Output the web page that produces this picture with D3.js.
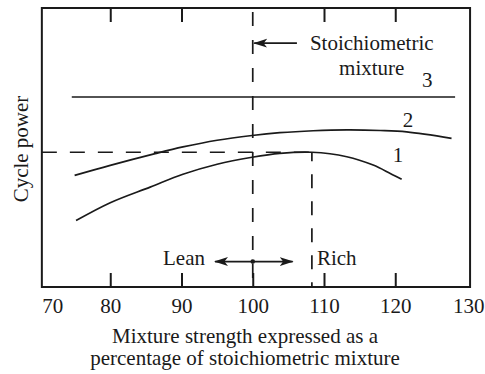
<!DOCTYPE html>
<html>
<head>
<meta charset="utf-8">
<script src="https://cdn.jsdelivr.net/npm/d3@7"></script>
<style>
  body { margin: 0; background: #fff; }
  svg { display: block; font-family: "Liberation Serif", "Times New Roman", serif; }
  text { fill: #1a1a1a; font-size: 21px; }
</style>
</head>
<body>
<svg id="chart" width="485" height="374"></svg>
<script>
// x: mixture strength (% of stoichiometric), y: relative cycle power
var xTicks = [70, 80, 90, 100, 110, 120, 130];
var topTicks = [80, 90, 110, 120];

// curve 1
var curve1X = [75.2, 80, 85.6, 90.2, 95, 99.9, 103.8, 108.3, 113.2, 116.9, 119.3, 120.9];
var curve1Y = [23.8, 30.2, 35.8, 40.4, 44.0, 46.5, 47.9, 48.3, 46.7, 43.7, 40.7, 38.6];
// curve 2
var curve2X = [75, 80, 86.3, 90.2, 95, 99.9, 103.8, 108.5, 113.2, 117.9, 121.6, 127.9];
var curve2Y = [40.0, 43.6, 47.8, 50.2, 52.6, 54.3, 55.3, 56.0, 56.3, 56.1, 55.6, 53.3];
// curve 3 (flat)
var curve3X = [74.6, 128.4];
var curve3Y = [68.1, 68.1];

var curveNames = ["1", "2", "3"];
var stoich = 100;
var peakX = 108.3, peakY = 48.3;

(function () {
  var svg = d3.select("#chart");
  var ink = "#1a1a1a";

  var x = d3.scaleLinear().domain([70, 130]).range([39, 466.5]);
  var y = d3.scaleLinear().domain([0, 100]).range([287, 8]);

  var fLeft = x(70.4), fRight = x(130.5), fTop = y(100), fBottom = y(0);

  // arrow heads
  var defs = svg.append("defs");
  defs.append("marker")
    .attr("id", "head")
    .attr("viewBox", "0 -5 14 10")
    .attr("refX", 13).attr("refY", 0)
    .attr("markerUnits", "userSpaceOnUse")
    .attr("markerWidth", 14).attr("markerHeight", 10)
    .attr("orient", "auto-start-reverse")
    .append("path")
    .attr("d", "M0,-4.5L14,0L0,4.5L3.5,0Z")
    .attr("fill", ink);

  // frame
  svg.append("rect")
    .attr("x", fLeft).attr("y", fTop)
    .attr("width", fRight - fLeft).attr("height", fBottom - fTop)
    .attr("fill", "none").attr("stroke", ink).attr("stroke-width", 2);

  // bottom ticks + labels
  var xAxis = svg.append("g")
    .attr("transform", "translate(0," + fBottom + ")")
    .call(d3.axisBottom(x).tickValues(xTicks).tickSize(-14).tickPadding(11).tickFormat(d3.format("d")));
  xAxis.select(".domain").remove();
  xAxis.selectAll(".tick line")
    .attr("stroke", ink).attr("stroke-width", 2)
    .attr("display", function (d) { return (d === 70 || d === 130) ? "none" : null; });
  xAxis.selectAll(".tick text")
    .attr("fill", ink)
    .style("font-size", "21px")
    .style("font-family", "Liberation Serif, serif")
    .attr("text-anchor", function (d) {
      if (d === 70) return "start";
      if (d === 130) return "end";
      return "middle";
    })
    .attr("x", function (d) {
      if (d === 70) return fLeft - x(70);
      if (d === 130) return 484 - x(130);
      return 0;
    });

  // top ticks
  var xTop = svg.append("g")
    .attr("transform", "translate(0," + fTop + ")")
    .call(d3.axisTop(x).tickValues(topTicks).tickSize(-14).tickFormat(""));
  xTop.select(".domain").remove();
  xTop.selectAll(".tick line").attr("stroke", ink).attr("stroke-width", 2);

  // dashed guides
  svg.append("line")
    .attr("x1", x(stoich)).attr("x2", x(stoich))
    .attr("y1", fTop).attr("y2", fBottom)
    .attr("stroke", ink).attr("stroke-width", 1.7)
    .attr("stroke-dasharray", "14,14").attr("stroke-dashoffset", 24);

  svg.append("line")
    .attr("x1", fLeft).attr("x2", x(peakX))
    .attr("y1", y(peakY)).attr("y2", y(peakY))
    .attr("stroke", ink).attr("stroke-width", 1.7)
    .attr("stroke-dasharray", "15,13");

  svg.append("line")
    .attr("x1", x(peakX)).attr("x2", x(peakX))
    .attr("y1", y(peakY)).attr("y2", fBottom)
    .attr("stroke", ink).attr("stroke-width", 1.7)
    .attr("stroke-dasharray", "14,13").attr("stroke-dashoffset", 5);

  // curves
  var line = d3.line()
    .x(function (d) { return x(d[0]); })
    .y(function (d) { return y(d[1]); })
    .curve(d3.curveCatmullRom.alpha(0.5));

  var curves = [d3.zip(curve1X, curve1Y), d3.zip(curve2X, curve2Y), d3.zip(curve3X, curve3Y)];
  svg.selectAll(".curve")
    .data(curves)
    .enter().append("path")
    .attr("class", "curve")
    .attr("d", line)
    .attr("fill", "none")
    .attr("stroke", ink)
    .attr("stroke-width", 1.7);

  // curve numbers
  var labelPos = [[120.4, 44.9], [121.8, 57.5], [124.5, 71.7]];
  svg.selectAll(".num")
    .data(curveNames)
    .enter().append("text")
    .attr("class", "num")
    .attr("text-anchor", "middle")
    .attr("x", function (d, i) { return x(labelPos[i][0]); })
    .attr("y", function (d, i) { return y(labelPos[i][1]); })
    .text(function (d) { return d; });

  // stoichiometric annotation
  svg.append("line")
    .attr("x1", x(106.2)).attr("x2", x(100.2))
    .attr("y1", y(87.4)).attr("y2", y(87.4))
    .attr("stroke", ink).attr("stroke-width", 1.7)
    .attr("marker-end", "url(#head)");
  svg.append("text")
    .attr("x", x(116.7)).attr("y", y(84.9))
    .attr("text-anchor", "middle")
    .text("Stoichiometric");
  svg.append("text")
    .attr("x", x(116.7)).attr("y", y(76))
    .attr("text-anchor", "middle")
    .text("mixture");

  // lean / rich arrow
  svg.append("line")
    .attr("x1", x(94.7)).attr("x2", x(105.6))
    .attr("y1", y(9.1)).attr("y2", y(9.1))
    .attr("stroke", ink).attr("stroke-width", 1.7)
    .attr("marker-start", "url(#head)")
    .attr("marker-end", "url(#head)");
  svg.append("circle")
    .attr("cx", x(stoich)).attr("cy", y(9.1)).attr("r", 2.3)
    .attr("fill", ink);
  svg.append("text")
    .attr("x", x(93.3)).attr("y", y(7.9))
    .attr("text-anchor", "end")
    .text("Lean");
  svg.append("text")
    .attr("x", x(109)).attr("y", y(7.9))
    .text("Rich");

  // axis titles
  svg.append("text")
    .attr("x", 245).attr("y", 343)
    .attr("text-anchor", "middle")
    .text("Mixture strength expressed as a");
  svg.append("text")
    .attr("x", 245).attr("y", 365)
    .attr("text-anchor", "middle")
    .text("percentage of stoichiometric mixture");
  svg.append("text")
    .attr("transform", "translate(27.5,149) rotate(-90)")
    .attr("text-anchor", "middle")
    .text("Cycle power");
})();
</script>
</body>
</html>
